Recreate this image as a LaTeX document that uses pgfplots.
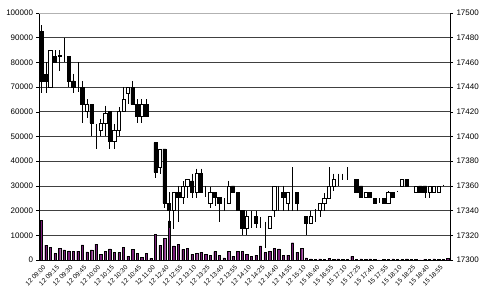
\documentclass[border=0pt]{standalone}
\usepackage{fontspec}
\setmainfont{Liberation Sans}
\usepackage{pgfplots}
\usepackage{pgfplotstable}
\pgfplotsset{compat=1.18}
\definecolor{vol}{HTML}{7B1F7B}
\pgfplotstableread{
x O H L C V
0 17485 17490 17435 17445 16000
1 17450 17460 17435 17445 6000
2 17440 17470 17440 17470 5200
3 17465 17470 17460 17460 2700
4 17465 17470 17453 17466 4600
5 17460 17480 17460 17460 4100
6 17465 17465 17440 17445 3700
7 17445 17451 17435 17440 3500
8 17441 17460 17436 17441 3600
9 17440 17445 17411 17426 6100
10 17420 17430 17415 17426 3300
11 17426 17426 17400 17411 4100
12 17405 17410 17390 17405 6400
13 17405 17414 17400 17411 2300
14 17411 17425 17400 17419 3500
15 17420 17420 17390 17396 4500
16 17396 17410 17390 17405 3000
17 17405 17424 17400 17420 3000
18 17420 17440 17420 17430 5200
19 17435 17440 17426 17440 1600
20 17440 17445 17426 17426 4200
21 17426 17430 17411 17416 2700
22 17416 17430 17411 17426 1200
23 17426 17430 17416 17416 2700
24 17416 17416 17416 17416 700
25 17395 17395 17366 17371 10400
26 17375 17390 17370 17390 6000
27 17390 17390 17342 17346 8800
28 17346 17355 17326 17340 15800
29 17340 17355 17325 17355 5700
30 17355 17360 17331 17351 6400
31 17351 17364 17345 17360 4300
32 17360 17365 17350 17365 4700
33 17364 17370 17350 17355 2400
34 17355 17374 17350 17370 2700
35 17370 17374 17355 17355 3200
36 17355 17360 17351 17355 2400
37 17346 17359 17342 17355 2000
38 17355 17355 17344 17351 3400
39 17351 17351 17331 17346 2000
40 17346 17350 17340 17346 900
41 17346 17364 17346 17360 3600
42 17360 17360 17355 17355 1600
43 17355 17355 17340 17340 3600
44 17340 17340 17320 17326 3600
45 17326 17340 17320 17335 2400
46 17335 17340 17326 17335 1400
47 17335 17340 17326 17330 2000
48 17330 17335 17326 17330 5700
49 17326 17331 17310 17326 3000
50 17326 17335 17326 17335 3600
51 17340 17360 17335 17360 4700
52 17346 17360 17340 17346 4500
53 17355 17360 17340 17351 2000
54 17346 17355 17340 17355 2000
55 17355 17375 17340 17355 7000
56 17355 17355 17340 17346 3200
57 17340 17340 17340 17340 4600
58 17335 17335 17320 17330 900
59 17330 17340 17330 17335 500
60 17340 17341 17331 17340 400
61 17340 17346 17335 17346 500
62 17346 17354 17340 17350 300
63 17350 17375 17350 17360 600
64 17360 17370 17356 17365 300
65 17365 17370 17360 17365 500
66 17365 17370 17365 17365 400
67 17365 17375 17365 17365 300
68 17365 17365 17365 17365 1500
69 17365 17365 17355 17355 400
70 17360 17360 17350 17351 500
71 17351 17355 17351 17355 300
72 17355 17355 17350 17351 500
73 17350 17350 17346 17346 400
74 17350 17350 17346 17350 0
75 17350 17350 17346 17346 400
76 17346 17356 17345 17355 300
77 17355 17355 17350 17351 500
78 17355 17356 17355 17355 400
79 17360 17365 17360 17365 300
80 17365 17365 17360 17360 500
81 17360 17360 17360 17360 400
82 17355 17360 17355 17360 300
83 17360 17360 17355 17355 0
84 17360 17360 17350 17355 400
85 17355 17360 17350 17360 300
86 17355 17360 17355 17360 500
87 17355 17360 17355 17360 300
88 17360 17361 17360 17360 400
89 17365 17365 17365 17365 600
}\data

\pgfplotsset{base/.style={at={(0,0)}, anchor=south west, scale only axis,
  width=411pt, height=247pt, xmin=-0.5, xmax=89.5,
  ticklabel style={font=\fontsize{8}{9}\selectfont},
  /pgf/number format/assume math mode=true,
  /pgf/number format/1000 sep={}, scaled y ticks=false}}

\begin{document}
\begin{tikzpicture}
\path[use as bounding box] (-39pt,-42pt) rectangle (446pt,260pt);
% volume axis
\begin{axis}[base, ymin=0, ymax=100000,
  axis x line*=bottom, axis y line*=left,
  ytick={0,10000,...,90000}, extra y ticks={100000},
  extra y tick style={grid style={black!30, line width=0.6pt}},
  ymajorgrids, grid style={black!75, line width=0.6pt},
  yticklabel style={/pgf/number format/fixed},
  tick align=outside, major tick length=2.5pt,
  y tick style={black, line width=0.5pt},
  xtick={0,3,...,87},
  xticklabels={12 09:00,12 09:15,12 09:30,12 09:45,12 10:00,12 10:15,12 10:30,12 10:45,12 11:00,12 12:40,12 12:55,12 13:10,12 13:25,12 13:40,12 13:55,12 14:10,12 14:25,12 14:40,12 14:55,12 15:10,15 16:40,15 16:55,15 17:10,15 17:25,15 17:40,15 17:55,15 18:10,15 18:25,15 18:40,15 18:55},
  xticklabel style={rotate=45, anchor=east, font=\fontsize{6.5}{7}\selectfont, inner sep=0.5pt, yshift=-5pt},
  x tick style={draw=none},
  axis line style={black, line width=0.6pt},
  ybar, bar width=0.5]
\addplot[fill=vol, draw=black, line width=0.3pt] table[x=x,y=V]{\data};
\end{axis}
% wicks + right axis
\begin{axis}[base, ymin=17300, ymax=17500,
  axis y line*=right, axis x line=none,
  ytick={17300,17320,...,17500},
  yticklabel style={/pgf/number format/fixed},
  tick align=outside, major tick length=3pt,
  y tick style={black, line width=0.5pt},
  axis line style={black, line width=0.6pt}]
\addplot[draw=none, mark=none,
  error bars/.cd, y dir=minus, y explicit, error mark=none,
  error bar style={draw=black, line width=0.6pt}]
  table[x=x, y=H, y error minus expr={\thisrow{H}-\thisrow{L}}]{\data};
\end{axis}
% bodies
\begin{axis}[base, ymin=0, ymax=200, hide axis, ybar stacked, bar width=0.72]
\addplot[draw=none, fill=none] table[x=x, y expr={min(\thisrow{O},\thisrow{C})-17300}]{\data};
\addplot[fill=black, draw=black, line width=0.6pt] table[x=x, y expr={max(\thisrow{O}-\thisrow{C},0)}]{\data};
\addplot[fill=white, draw=black, line width=0.6pt] table[x=x, y expr={max(\thisrow{C}-\thisrow{O},0)}]{\data};
\end{axis}
\end{tikzpicture}
\end{document}
